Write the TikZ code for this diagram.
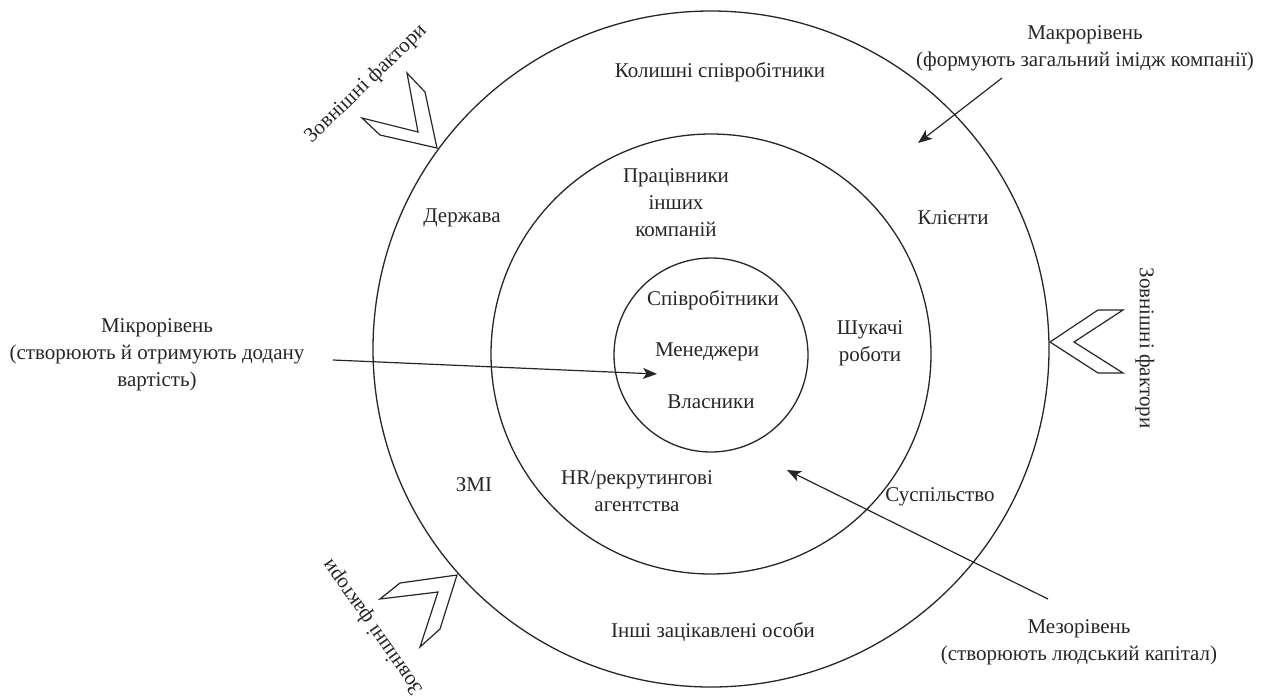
\documentclass[tikz,border=0pt]{standalone}
\usepackage{fontspec}
\setmainfont{Liberation Serif}
\usetikzlibrary{arrows.meta}
\begin{document}
\begin{tikzpicture}[x=1pt,y=-1pt,
  lbl/.style={font=\fontsize{21}{27}\selectfont, align=center, inner sep=0pt, text=black!85},
  ring/.style={draw=black!85, line width=1.3pt},
  chev/.style={draw=black!85, line width=1.2pt, line join=miter, fill=white},
  arr/.style={draw=black!85, line width=1.2pt, -{Stealth[length=14pt,width=11pt,inset=3.5pt]}}]
\useasboundingbox (0,0) rectangle (1266,697);
% rings
\node[ring, circle, minimum size=676pt, inner sep=0pt] (outer) at (711,349) {};
\node[ring, circle, minimum size=440pt, inner sep=0pt] (middle) at (711,354) {};
\node[ring, circle, minimum size=194pt, inner sep=0pt] (inner) at (711,355) {};
% outer ring labels
\node[lbl] (former) at (720,72) {Колишні співробітники};
\node[lbl] (state) at (462,218) {Держава};
\node[lbl] (clients) at (953,218) {Клієнти};
\node[lbl] (media) at (474,485) {ЗМІ};
\node[lbl] (society) at (940,497) {Суспільство};
\node[lbl] (others) at (713,632) {Інші зацікавлені особи};
% middle ring labels
\node[lbl] (othcomp) at (676,203) {Працівники\\інших\\компаній};
\node[lbl] (seekers) at (870,343) {Шукачі\\роботи};
\node[lbl] (hr) at (637,491) {HR/рекрутингові\\агентства};
% inner labels
\node[lbl] (emp) at (713,300) {Співробітники};
\node[lbl] (man) at (707,352) {Менеджери};
\node[lbl] (own) at (711,402) {Власники};
% level labels
\node[lbl] (macro) at (1085,48) {Макрорівень\\(формують загальний імідж компанії)};
\node[lbl] (micro) at (157,355) {Мікрорівень\\(створюють й отримують додану\\вартість)};
\node[lbl] (meso) at (1079,642) {Мезорівень\\(створюють людський капітал)};
% arrows
\coordinate (macroS) at (1002,78);
\coordinate (macroT) at (918,143);
\coordinate (microS) at (333,360);
\coordinate (microT) at (657,374);
\coordinate (mesoS) at (1048,599);
\coordinate (mesoT) at (787,470);
\draw[arr] (macroS) -- (macroT);
\draw[arr] (microS) -- (microT);
\draw[arr] (mesoS) -- (mesoT);
% chevrons (external factors)
\draw[chev] (437,148) -- (380,135) -- (362,118) -- (418,132) -- (407,73) -- (425,92) -- cycle;
\draw[chev] (1050,342) -- (1098,310) -- (1123,310) -- (1074,342) -- (1123,373) -- (1098,373) -- cycle;
\draw[chev] (457,575) -- (400,583) -- (380,599) -- (438,592) -- (420,647) -- (440,629) -- cycle;
\node[lbl, rotate=44] (ext1) at (366,84) {Зовнішні фактори};
\node[lbl, rotate=-90] (ext2) at (1145,348) {Зовнішні фактори};
\node[lbl, rotate=125] (ext3) at (373,627) {Зовнішні фактори};
\end{tikzpicture}
\end{document}
